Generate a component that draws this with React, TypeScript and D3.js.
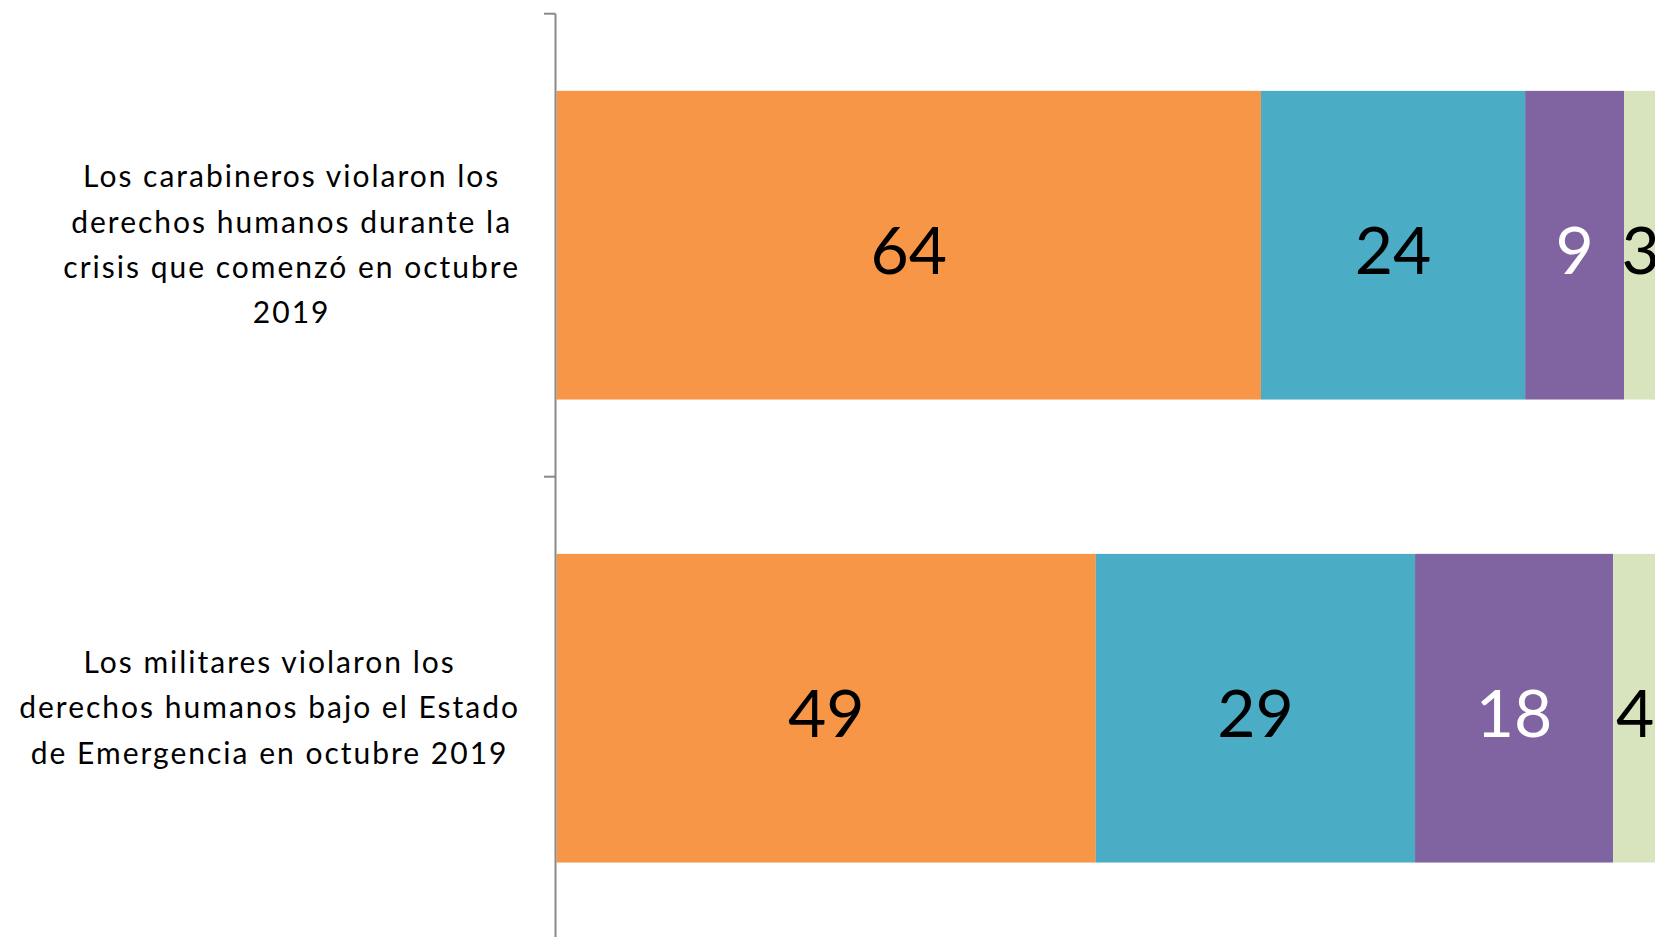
import React, { useEffect, useRef } from "react";
import * as d3 from "d3";

const categories = ["carabineros", "militares"];
const categoryLines = [
  ["Los carabineros violaron los", "derechos humanos durante la", "crisis que comenzó en octubre", "2019"],
  ["Los militares violaron los", "derechos humanos bajo el Estado", "de Emergencia en octubre 2019"],
];
const seriesKeys = ["s1", "s2", "s3", "s4"];
const s1Values = [64, 49];
const s2Values = [24, 29];
const s3Values = [9, 18];
const s4Values = [3, 4];
const seriesColors = ["#F79646", "#4BACC6", "#8064A2", "#D7E4BD"];
const labelColors = ["#000000", "#000000", "#ffffff", "#000000"];

const W = 1655;
const H = 937;

export default function App() {
  const ref = useRef<SVGSVGElement>(null);
  useEffect(() => {
    const svg = d3.select(ref.current);
    svg.selectAll("*").remove();
    const rows = categories.map((c, i) => ({
      cat: c,
      s1: s1Values[i],
      s2: s2Values[i],
      s3: s3Values[i],
      s4: s4Values[i],
    }));
    const y = d3.scaleBand().domain(categories).range([13.7, 939.7]).paddingInner(1 / 3).paddingOuter(1 / 6);
    const x = d3.scaleLinear().domain([0, 100]).range([556.5, 1657.2]);
    const stack = d3.stack<any>().keys(seriesKeys)(rows);

    const g = svg.append("g");
    stack.forEach((layer, li) => {
      const lg = g.append("g");
      lg.selectAll("rect")
        .data(layer)
        .enter()
        .append("rect")
        .attr("x", (d) => x(d[0]))
        .attr("y", (d: any) => y(d.data.cat)!)
        .attr("width", (d) => x(d[1]) - x(d[0]))
        .attr("height", y.bandwidth())
        .attr("fill", seriesColors[li]);
      lg.selectAll("text")
        .data(layer)
        .enter()
        .append("text")
        .attr("x", (d) => (x(d[0]) + x(d[1])) / 2)
        .attr("y", (d: any) => y(d.data.cat)! + y.bandwidth() / 2 + 29)
        .attr("text-anchor", "middle")
        .attr("font-family", "Lato, 'Open Sans', sans-serif")
        .attr("font-size", 66)
        .attr("fill", labelColors[li])
        .text((d) => String(d[1] - d[0]));
    });

    // axis
    const axisX = 555.5;
    svg.append("line")
      .attr("x1", axisX).attr("x2", axisX)
      .attr("y1", y.range()[0]).attr("y2", H + 5)
      .attr("stroke", "#898989").attr("stroke-width", 2);
    const tickYs = [y.range()[0], y.range()[0] + y.step()];
    svg.selectAll(".tick")
      .data(tickYs)
      .enter()
      .append("line")
      .attr("x1", 544).attr("x2", axisX)
      .attr("y1", (d) => d).attr("y2", (d) => d)
      .attr("stroke", "#898989").attr("stroke-width", 2);

    // category labels
    const lineH = 45.3;
    const rightEdge = 520;
    categories.forEach((c, i) => {
      const lines = categoryLines[i];
      const cy = y(c)! + y.bandwidth() / 2;
      const tg = svg.append("g");
      const texts = tg.selectAll("text")
        .data(lines)
        .enter()
        .append("text")
        .attr("text-anchor", "middle")
        .attr("font-family", "Lato, 'Open Sans', sans-serif")
        .attr("font-size", 30)
        .attr("letter-spacing", 2)
        .attr("fill", "#000")
        .attr("y", (_d, k) => cy + (k - (lines.length - 1) / 2) * lineH + 10)
        .text((d) => d);
      let maxW = 0;
      texts.each(function () {
        maxW = Math.max(maxW, (this as SVGTextElement).getComputedTextLength());
      });
      texts.attr("x", rightEdge - maxW / 2);
    });
  }, []);
  return (
    <svg
      ref={ref}
      width={W}
      height={H}
      style={{ position: "absolute", left: 0, top: 0, background: "#fff" }}
    />
  );
}
